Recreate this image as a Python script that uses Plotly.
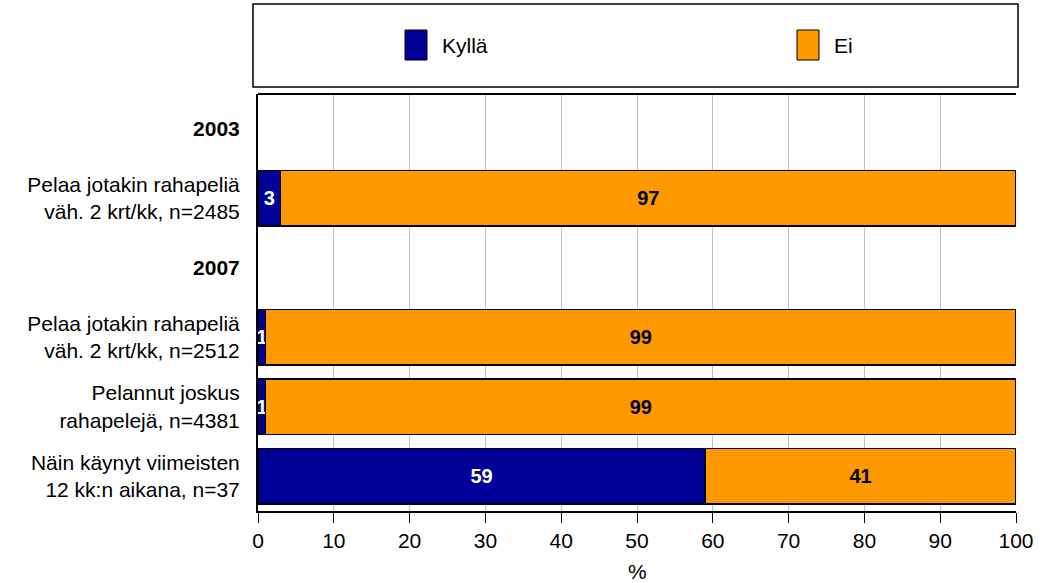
import plotly.graph_objects as go

categories = [
    "<b>2003</b>",
    "Pelaa jotakin rahapeliä<br>väh. 2 krt/kk, n=2485",
    "<b>2007</b>",
    "Pelaa jotakin rahapeliä<br>väh. 2 krt/kk, n=2512",
    "Pelannut joskus<br>rahapelejä, n=4381",
    "Näin käynyt viimeisten<br>12 kk:n aikana, n=37",
]
kylla = [None, 3, None, 1, 1, 59]
ei = [None, 97, None, 99, 99, 41]
tick_vals = list(range(0, 101, 10))

FONT = "Liberation Sans, Arial, sans-serif"
NAVY = "#000099"
ORANGE = "#FF9900"
FS = 21

fig = go.Figure()
fig.add_trace(go.Bar(
    y=categories, x=kylla, orientation="h", name="Kyllä",
    marker=dict(color=NAVY, line=dict(color="black", width=1.5)),
    text=[("" if v is None else str(v)) for v in kylla],
    textposition="inside", insidetextanchor="middle",
    textfont=dict(color="white", size=20, family=FONT, weight="bold"),
    showlegend=False, width=0.8,
))
fig.add_trace(go.Bar(
    y=categories, x=ei, orientation="h", name="Ei",
    marker=dict(color=ORANGE, line=dict(color="black", width=1.5)),
    text=[("" if v is None else str(v)) for v in ei],
    textposition="inside", insidetextanchor="middle",
    textfont=dict(color="black", size=20, family=FONT, weight="bold"),
    showlegend=False, width=0.8,
))

W, H = 1045, 583
L, T = 258, 94
R = W - 1016
B = H - 511
pw, ph = W - L - R, H - T - B

def px(xp):
    return (xp - L) / pw

def py(yp):
    return (H - B - yp) / ph

shapes = [
    dict(type="rect", xref="paper", yref="paper", x0=px(253), x1=px(1018), y0=py(87), y1=py(4),
         line=dict(color="black", width=1.5), fillcolor="white"),
    dict(type="rect", xref="paper", yref="paper", x0=px(405), x1=px(427), y0=py(60), y1=py(30),
         line=dict(color="black", width=1), fillcolor=NAVY),
    dict(type="rect", xref="paper", yref="paper", x0=px(797), x1=px(819), y0=py(60), y1=py(30),
         line=dict(color="black", width=1), fillcolor=ORANGE),
    dict(type="line", xref="paper", yref="paper", x0=0, x1=1, y0=1, y1=1,
         line=dict(color="black", width=2)),
]
annotations = [
    dict(xref="paper", yref="paper", x=px(440), y=py(45), text="Kyllä", showarrow=False,
         xanchor="left", yanchor="middle", font=dict(size=FS, family=FONT, color="black")),
    dict(xref="paper", yref="paper", x=px(832), y=py(45), text="Ei", showarrow=False,
         xanchor="left", yanchor="middle", font=dict(size=FS, family=FONT, color="black")),
    dict(xref="paper", yref="paper", x=0.5, y=py(571), text="%", showarrow=False,
         xanchor="center", yanchor="middle", font=dict(size=FS, family=FONT, color="black")),
]

fig.update_layout(
    width=W, height=H,
    margin=dict(l=L, r=R, t=T, b=B, autoexpand=False),
    barmode="stack", bargap=0.2,
    plot_bgcolor="white", paper_bgcolor="white",
    font=dict(family=FONT, size=FS, color="black"),
    shapes=shapes, annotations=annotations,
)
fig.update_traces(constraintext="none", cliponaxis=False)
fig.update_xaxes(
    range=[0, 100], tickvals=tick_vals, ticktext=[str(v) for v in tick_vals],
    showgrid=True, gridcolor="#c0c0c0", gridwidth=1,
    showline=True, linecolor="black", linewidth=2,
    ticks="outside", ticklen=10, tickcolor="black", tickwidth=1,
    tickfont=dict(size=FS, family=FONT), zeroline=False, automargin=False,
)
fig.update_yaxes(
    categoryorder="array", categoryarray=categories,
    autorange="reversed",
    showline=True, linecolor="black", linewidth=2,
    ticks="", ticklabelstandoff=12, automargin=False,
    tickfont=dict(size=FS, family=FONT),
)

fig.write_html(
    "out.html",
    config={"displayModeBar": False},
    post_script="document.body.style.margin='0';document.body.style.overflow='hidden';",
)
